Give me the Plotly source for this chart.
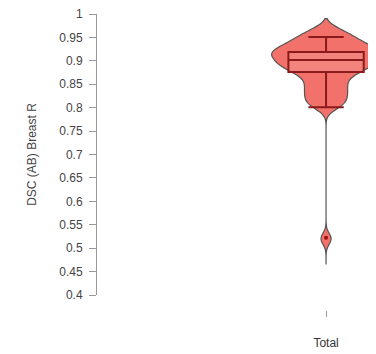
import plotly.graph_objects as go

# ---- data ----
category = ["Total"]
dsc_values = [0.968, 0.96, 0.954, 0.949, 0.944, 0.94, 0.936, 0.932, 0.929, 0.926,
              0.923, 0.92, 0.918, 0.916, 0.914, 0.911, 0.908, 0.905, 0.902, 0.899,
              0.896, 0.893, 0.89, 0.887, 0.884, 0.88, 0.876, 0.871, 0.865, 0.857,
              0.85, 0.843, 0.836, 0.829, 0.822, 0.815, 0.808, 0.80, 0.52]
box_q1 = [0.876]
box_median = [0.902]
box_q3 = [0.919]
box_lower = [0.801]
box_upper = [0.951]
outliers = [0.522]
y_ticks = [0.4, 0.45, 0.5, 0.55, 0.6, 0.65, 0.7, 0.75, 0.8, 0.85, 0.9, 0.95, 1.0]
y_tick_text = ["0.4", "0.45", "0.5", "0.55", "0.6", "0.65", "0.7", "0.75", "0.8",
               "0.85", "0.9", "0.95", "1"]

fig = go.Figure()
fig.add_trace(go.Violin(
    x=category * len(dsc_values), y=dsc_values,
    fillcolor="#f2726b", line=dict(color="#555555", width=1.2),
    opacity=1, points=False, box_visible=False, meanline_visible=False,
    bandwidth=0.012, spanmode="manual", span=[0.465, 0.99],
    width=0.78, showlegend=False, hoverinfo="skip"))
fig.add_trace(go.Box(
    x=category, q1=box_q1, median=box_median, q3=box_q3,
    lowerfence=box_lower, upperfence=box_upper,
    fillcolor="rgba(255,255,255,0.12)", line=dict(color="#8b1a1a", width=2),
    width=0.54, whiskerwidth=0.47, boxpoints=False, showlegend=False))
fig.add_trace(go.Scatter(
    x=category * len(outliers), y=outliers, mode="markers",
    marker=dict(color="#9b1010", size=4), showlegend=False))

# page body has an 8px margin, so the figure is drawn 8px smaller and shifted
fig.update_layout(
    width=368, height=346,
    margin=dict(l=89, r=0, t=6, b=44, autoexpand=False),
    plot_bgcolor="white", paper_bgcolor="white",
    font=dict(family="Liberation Sans, Arial, sans-serif", size=12, color="#444444"),
    boxmode="overlay", violinmode="overlay",
)
fig.update_xaxes(
    type="category", range=[-1.642, 0.358], anchor="free", position=0,
    automargin=False,
    showline=False, showgrid=False, zeroline=False,
    ticks="outside", ticklen=6, tickcolor="#999999", tickwidth=1,
    ticklabelstandoff=16, tickfont=dict(size=12, color="#333333"))
fig.update_yaxes(
    range=[0.4, 1.0], domain=[15 / 296, 1], automargin=False,
    tickvals=y_ticks, ticktext=y_tick_text, ticklabeloverflow="allow",
    showline=True, linecolor="#999999", linewidth=1,
    showgrid=False, zeroline=False,
    ticks="outside", ticklen=7, tickcolor="#999999",
    ticklabelstandoff=4, tickfont=dict(size=12, color="#444444"),
    title=dict(text="DSC (AB) Breast R", standoff=20, font=dict(size=12, color="#444444")))

fig.write_html("out.html")
